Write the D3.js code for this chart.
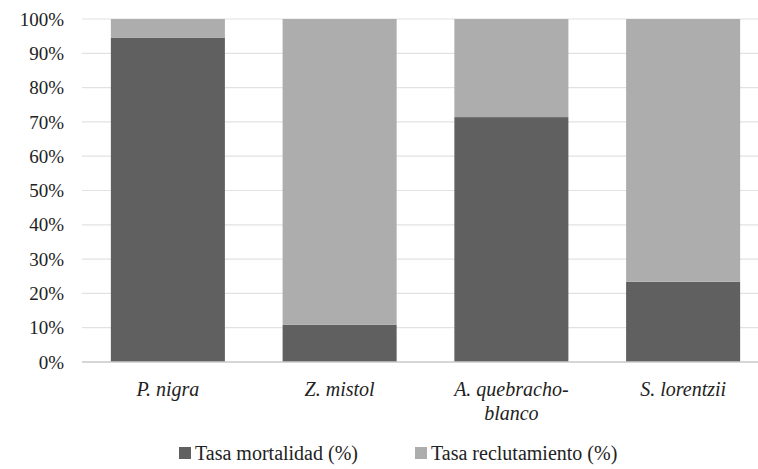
<!DOCTYPE html>
<html>
<head>
<meta charset="utf-8">
<script src="https://cdn.jsdelivr.net/npm/d3@7"></script>
</head>
<body style="margin:0">
<svg width="758" height="469"></svg>
<script>
//Species on the x axis (lines split for wrapped labels)
let species = ["P. nigra", "Z. mistol", "A. quebracho-blanco", "S. lorentzii"];
let speciesLines = [["P. nigra"], ["Z. mistol"], ["A. quebracho-", "blanco"], ["S. lorentzii"]];
//Percentages of mortality; recruitment fills up to 100%
let mortality = [94.6, 10.9, 71.4, 23.4];
let recruitment = [5.4, 89.1, 28.6, 76.6];
let seriesNames = ["Tasa mortalidad (%)", "Tasa reclutamiento (%)"];
let yTicks = [0, 10, 20, 30, 40, 50, 60, 70, 80, 90, 100];

let colors = ["#606060", "#adadad"];

let svg = d3.select("svg");
let margin = {top: 19, left: 82, bottom: 362};

let x = d3.scaleBand().domain(species).range([margin.left, 769])
          .paddingInner(0.336).paddingOuter(0.168);
let y = d3.scaleLinear().domain([0, 100]).range([margin.bottom, margin.top]);

//Gridlines
svg.append("g").selectAll("line")
   .data(yTicks.filter(d => d > 0))
   .enter().append("line")
   .attr("x1", margin.left).attr("x2", 758)
   .attr("y1", d => y(d)).attr("y2", d => y(d))
   .attr("stroke", "#e2e2e2").attr("stroke-width", 1.2);

//Stack the two series
let rows = species.map((s, i) => ({sp: s, m: mortality[i], r: recruitment[i]}));
let stack = d3.stack().keys(["m", "r"])(rows);

svg.append("g").selectAll("g")
   .data(stack)
   .enter().append("g")
   .attr("fill", (d, i) => colors[i])
   .selectAll("rect")
   .data(d => d)
   .enter().append("rect")
   .attr("x", d => x(d.data.sp))
   .attr("width", x.bandwidth())
   .attr("y", d => y(d[1]))
   .attr("height", d => y(d[0]) - y(d[1]));

//Baseline
svg.append("line")
   .attr("x1", margin.left).attr("x2", 758)
   .attr("y1", y(0)).attr("y2", y(0))
   .attr("stroke", "#c8c8c8").attr("stroke-width", 1.3);

//Y axis labels
svg.selectAll(".ytick")
   .data(yTicks)
   .enter().append("text")
   .attr("class", "ytick")
   .attr("x", margin.left - 18)
   .attr("y", d => y(d))
   .attr("dy", "0.35em")
   .attr("text-anchor", "end")
   .style("font-family", d => "'Liberation Serif'")
   .style("font-size", "19px")
   .style("fill", "#222")
   .text(d => d + "%");

//Category labels
let cat = svg.selectAll(".cat")
   .data(speciesLines)
   .enter().append("text")
   .attr("class", "cat")
   .attr("text-anchor", "middle")
   .style("font-family", d => "'Liberation Serif'")
   .style("font-style", "italic")
   .style("font-size", "20px")
   .style("fill", "#222")
   .attr("x", (d, i) => x(species[i]) + x.bandwidth() / 2)
   .attr("y", 396);
cat.selectAll("tspan")
   .data(d => d)
   .enter().append("tspan")
   .attr("x", function() { return d3.select(this.parentNode).attr("x"); })
   .attr("dy", (d, i) => i == 0 ? 0 : 24)
   .text(d => d);

//Legend
let legendX = [179, 415];
svg.selectAll(".legrect")
   .data(seriesNames)
   .enter().append("rect")
   .attr("class", "legrect")
   .attr("x", (d, i) => legendX[i]).attr("y", 447)
   .attr("width", 12).attr("height", 12)
   .attr("fill", (d, i) => colors[i]);
svg.selectAll(".legtext")
   .data(seriesNames)
   .enter().append("text")
   .attr("class", "legtext")
   .attr("x", (d, i) => legendX[i] + 16).attr("y", 460)
   .style("font-family", d => "'Liberation Serif'")
   .style("font-size", "20px")
   .style("fill", "#222")
   .text(d => d);
</script>
</body>
</html>
